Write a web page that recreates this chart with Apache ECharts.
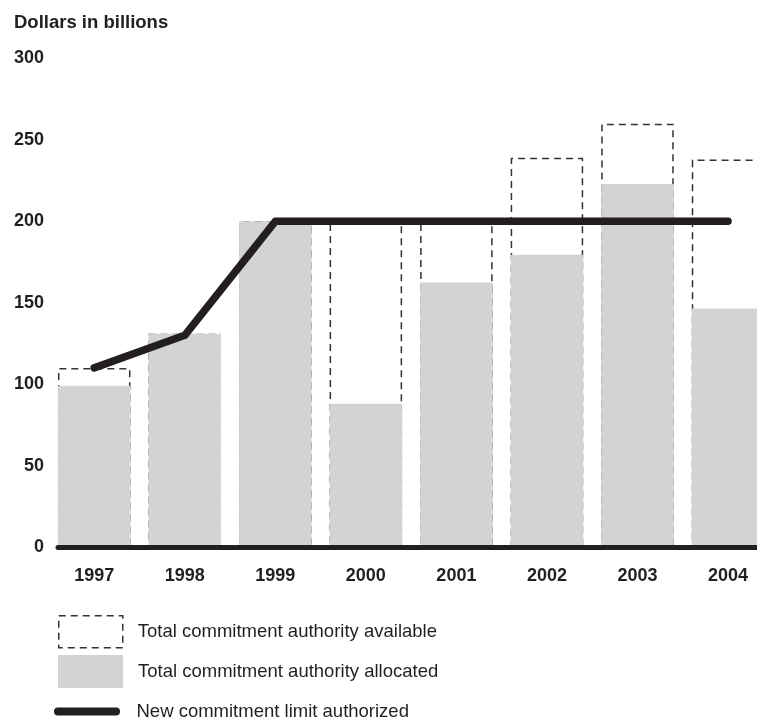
<!DOCTYPE html>
<html>
<head>
<meta charset="utf-8">
<script src="https://cdn.jsdelivr.net/npm/echarts@6/dist/echarts.min.js"></script>
<style>
html,body{margin:0;padding:0;background:#fff;}
#chart{width:757px;height:719px;}
</style>
</head>
<body>
<div id="chart"></div>
<script>
const years = ['1997', '1998', '1999', '2000', '2001', '2002', '2003', '2004'];
const available = [110, 131, 200, 200, 200, 239, 260, 238];
const allocated = [99, 131, 200, 88, 162.5, 179.5, 223, 146.5];
const limitAuthorized = [110, 130, 200, 200, 200, 200, 200, 200];
const yTicks = [0, 50, 100, 150, 200, 250, 300];

const names = ['Total commitment authority available', 'Total commitment authority allocated', 'New commitment limit authorized'];
const FONT = '"Liberation Sans", Arial, Helvetica, sans-serif';
const INK = '#231f20';
const GRAY = '#d1d3d4';
const DASH = [7, 5];

const idx = years.map((y, i) => i);
const chart = echarts.init(document.getElementById('chart'));
chart.setOption({
  backgroundColor: '#fff',
  animation: false,
  title: {
    text: 'Dollars in billions',
    left: 14, top: 13, padding: 0,
    textStyle: { fontFamily: FONT, fontSize: 18.5, fontWeight: 'bold', color: INK }
  },
  grid: { left: 58, right: 0, top: 58.5, bottom: 172, containLabel: false },
  xAxis: {
    type: 'value',
    min: -0.4, max: 7.32,
    z: 10,
    splitLine: { show: false },
    axisTick: { show: false },
    axisLine: { show: true, onZero: false, lineStyle: { color: INK, width: 5 } },
    axisLabel: {
      customValues: idx,
      margin: 20,
      fontFamily: FONT, fontSize: 18, fontWeight: 'bold', color: INK,
      formatter: v => years[Math.round(v)]
    }
  },
  yAxis: {
    type: 'value',
    min: 0, max: 300, interval: 50,
    splitLine: { show: false },
    axisTick: { show: false },
    axisLine: { show: false },
    axisLabel: {
      margin: 14,
      fontFamily: FONT, fontSize: 18, fontWeight: 'bold', color: INK,
      formatter: v => yTicks.includes(v) ? String(v) : ''
    }
  },
  legend: [
    {
      data: [{ name: names[0], icon: 'rect' }],
      left: 58, top: 615, padding: 0, itemWidth: 64, itemHeight: 32,
      selectedMode: false,
      itemStyle: { color: 'rgba(255,255,255,0)', borderColor: '#333', borderWidth: 1.5, borderType: DASH },
      textStyle: { fontFamily: FONT, fontSize: 18.5, color: INK, padding: [0, 0, 0, 10] }
    },
    {
      data: [{ name: names[1], icon: 'rect' }],
      left: 58, top: 655, padding: 0, itemWidth: 65, itemHeight: 33,
      selectedMode: false,
      textStyle: { fontFamily: FONT, fontSize: 18.5, color: INK, padding: [0, 0, 0, 10] }
    },
    {
      data: [{ name: names[2], icon: 'path://M4,0H62A4,4,0,0,1,62,8H4A4,4,0,0,1,4,0Z' }],
      left: 54, top: 702, padding: 0, itemWidth: 69, itemHeight: 8,
      selectedMode: false,
      itemStyle: { color: INK },
      textStyle: { fontFamily: FONT, fontSize: 18.5, color: INK, padding: [0, 0, 0, 10] }
    }
  ],
  series: [
    {
      name: names[0],
      type: 'bar',
      barWidth: 72.5,
      barGap: '-100%',
      z: 1,
      itemStyle: { color: 'rgba(255,255,255,0)', borderColor: '#333', borderWidth: 1.5, borderType: DASH },
      data: idx.map(i => [i, available[i]])
    },
    {
      name: names[1],
      type: 'bar',
      barWidth: 72.5,
      barGap: '-100%',
      z: 2,
      itemStyle: { color: GRAY },
      data: idx.map(i => [i, allocated[i]])
    },
    {
      name: names[2],
      type: 'line',
      z: 5,
      symbol: 'none',
      lineStyle: { color: INK, width: 7.5, cap: 'round', join: 'round' },
      itemStyle: { color: INK },
      data: idx.map(i => [i, limitAuthorized[i]])
    }
  ]
});
</script>
</body>
</html>
